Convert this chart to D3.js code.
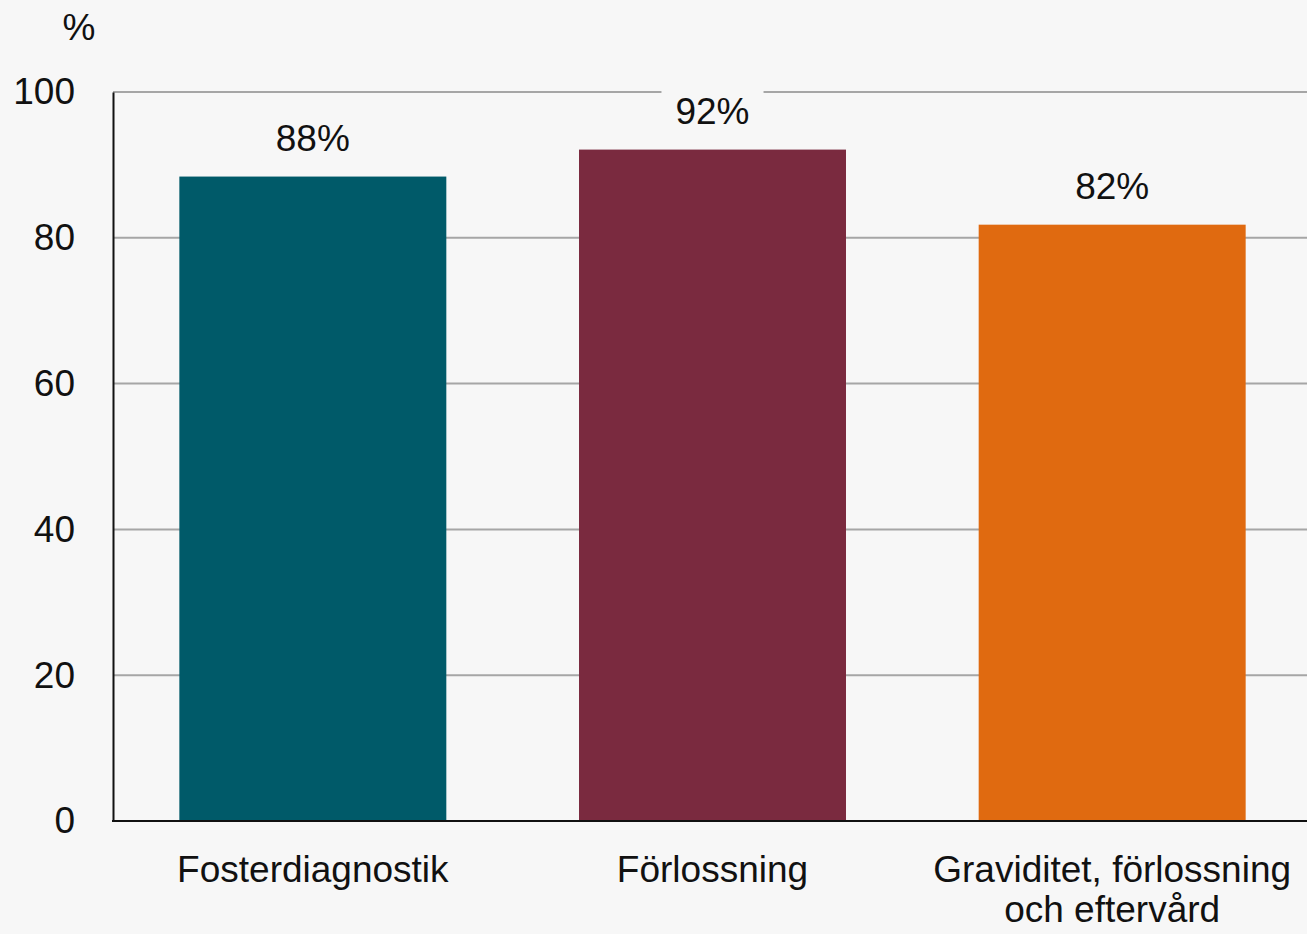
<!DOCTYPE html>
<html>
<head>
<meta charset="utf-8">
<script src="https://cdn.jsdelivr.net/npm/d3@7/dist/d3.min.js"></script>
<style>
  html, body { margin: 0; padding: 0; background: #f7f7f7; }
  svg { display: block; }
  text { font-family: "Liberation Sans", Arial, sans-serif; fill: #111; }
</style>
</head>
<body>
<svg id="chart" width="1307" height="934"></svg>
<script>
const categories = ["Fosterdiagnostik", "Förlossning", "Graviditet, förlossning\noch eftervård"];
const values = [88.4, 92.1, 81.8];
const valueLabels = ["88%", "92%", "82%"];
const colors = ["#005A69", "#7A2A3F", "#E06A10"];
const yTicks = [0, 20, 40, 60, 80, 100];
const unitLabel = "%";

(function () {
const W = 1307, H = 934;
const svg = d3.select("#chart");
svg.append("rect").attr("width", W).attr("height", H).attr("fill", "#f7f7f7");

const mLeft = 113, mBottom = 821, mTop = 92;
const x = d3.scaleBand().domain(categories).range([mLeft, 1312]).paddingInner(0.332).paddingOuter(0.166);
const y = d3.scaleLinear().domain([0, 100]).range([mBottom, mTop]);

// gridlines
svg.append("g").selectAll("line").data(yTicks.filter(d => d > 0)).join("line")
  .attr("x1", mLeft).attr("x2", W)
  .attr("y1", d => y(d)).attr("y2", d => y(d))
  .attr("stroke", "#a6a6a6").attr("stroke-width", 2);

// bars
svg.append("g").selectAll("rect").data(categories).join("rect")
  .attr("x", d => x(d))
  .attr("width", x.bandwidth())
  .attr("y", (d, i) => y(values[i]))
  .attr("height", (d, i) => mBottom - y(values[i]))
  .attr("fill", (d, i) => colors[i]);

// value labels with background
const lbl = svg.append("g").selectAll("g").data(categories).join("g");
lbl.each(function(d, i) {
  const g = d3.select(this);
  const cx = x(d) + x.bandwidth() / 2;
  const by = y(values[i]) - 26;
  const t = g.append("text").attr("x", cx).attr("y", by)
    .attr("text-anchor", "middle").attr("font-size", 37).text(valueLabels[i]);
  const bb = t.node().getBBox();
  g.insert("rect", "text").attr("x", bb.x - 14).attr("width", bb.width + 28)
    .attr("y", bb.y - 2).attr("height", bb.height + 4).attr("fill", "#f7f7f7");
});

// y axis
const yAxis = d3.axisLeft(y).tickValues(yTicks).tickSize(0).tickPadding(38);
const gy = svg.append("g").attr("transform", `translate(${mLeft},0)`).call(yAxis);
gy.select(".domain").attr("stroke", "#111").attr("stroke-width", 2);
gy.selectAll("text").attr("font-size", 37).attr("fill", "#111").attr("dy", "0.32em")
  .style("font-family", '"Liberation Sans", Arial, sans-serif');

// x axis baseline
svg.append("line").attr("x1", mLeft - 1).attr("x2", W).attr("y1", mBottom).attr("y2", mBottom)
  .attr("stroke", "#111").attr("stroke-width", 2);

// category labels
svg.append("g").selectAll("text").data(categories).join("text")
  .attr("x", d => x(d) + x.bandwidth() / 2)
  .attr("y", 882)
  .attr("text-anchor", "middle").attr("font-size", 37)
  .each(function(d) {
    const lines = d.split("\n");
    d3.select(this).selectAll("tspan").data(lines).join("tspan")
      .attr("x", x(d) + x.bandwidth() / 2)
      .attr("dy", (l, j) => j === 0 ? 0 : 40)
      .text(l => l);
  });

// unit label
svg.append("text").attr("x", 79).attr("y", 40).attr("text-anchor", "middle")
  .attr("font-size", 37).text(unitLabel);
})();
</script>
</body>
</html>
